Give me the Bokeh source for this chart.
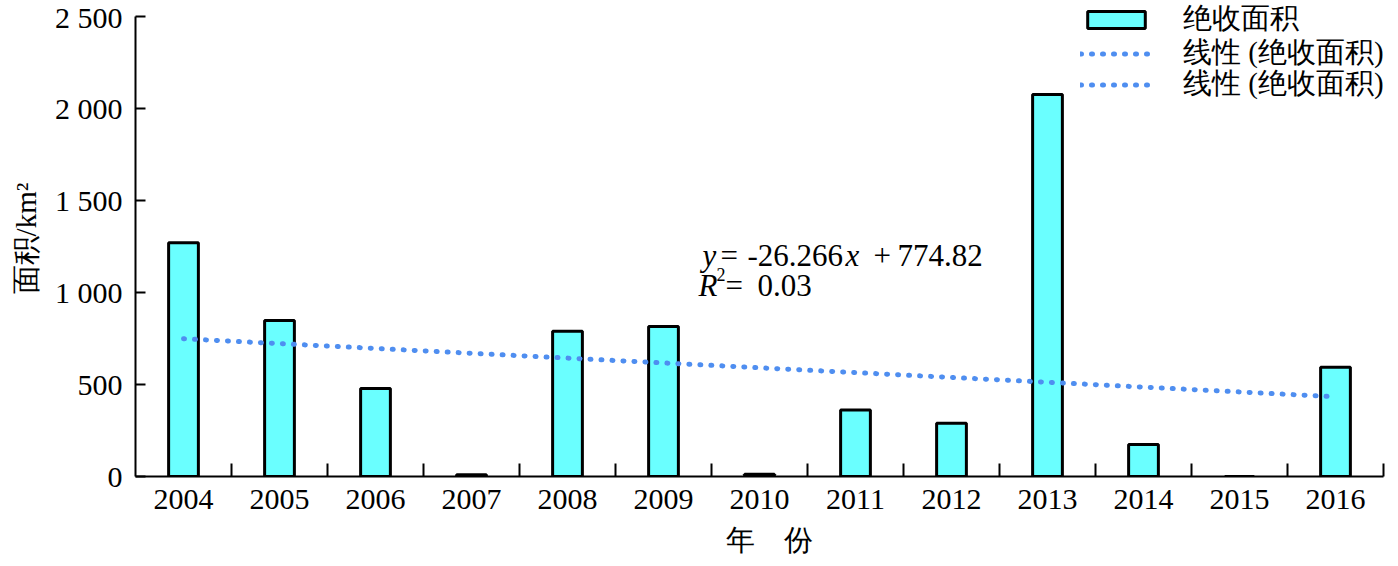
from bokeh.plotting import figure
from bokeh.models import (ColumnDataSource, FixedTicker, Legend, LegendItem, Range1d)
from bokeh.core.properties import value
from bokeh.embed import file_html
from bokeh.resources import INLINE
import numpy as np

# ---- data ----
years = ["2004", "2005", "2006", "2007", "2008", "2009", "2010",
         "2011", "2012", "2013", "2014", "2015", "2016"]
area = [1270, 848, 478, 10, 790, 815, 12, 362, 290, 2076, 174, 0, 594]
y_ticks = [0, 500, 1000, 1500, 2000, 2500]
y_tick_labels = ["0", "500", "1 000", "1 500", "2 000", "2 500"]
y_max = 2500
slope = -26.266
intercept = 774.82
bar_label = "绝收面积"
trend_label = "线性 (绝收面积)"

FONT = "Liberation Serif"
FS = "30px"

n = len(years)
xc = np.arange(n) + 0.5
src = ColumnDataSource(dict(x=xc, area=area))

# frame reaches the top edge (room for the legend); axis drawn only to y_max
p = figure(width=1390, height=558, output_backend="svg", toolbar_location=None,
           x_range=Range1d(0, n), y_range=Range1d(0, y_max * 476 / 460),
           min_border_left=135, min_border_right=7, min_border_top=0,
           min_border_bottom=82)
p.outline_line_alpha = 0
p.grid.visible = False
p.background_fill_color = "white"
p.border_fill_color = "white"

bars = p.vbar(x="x", top="area", width=0.31, source=src,
              fill_color="#6AFFFF", line_color="black", line_width=3)

# trend line from the chart's regression equation (x = 1..n)
t = np.array([1, n])
trend = p.line(x=[xc[0], xc[-1]], y=slope * t + intercept,
               line_color="#4F8EF0", line_width=5, line_dash="1 10",
               line_cap="round")

# x axis
xa = p.xaxis[0]
xa.ticker = FixedTicker(ticks=list(xc), minor_ticks=list(range(1, n + 1)))
xa.major_label_overrides = {float(x): y for x, y in zip(xc, years)}
xa.major_tick_in = 0
xa.major_tick_out = 0
xa.minor_tick_in = 13
xa.minor_tick_out = 0
xa.minor_tick_line_color = "black"
xa.minor_tick_line_width = 2
xa.axis_line_width = 2
xa.axis_line_color = "black"
xa.major_label_standoff = 13
xa.major_label_text_font = FONT
xa.major_label_text_font_size = FS
xa.major_label_text_color = "black"
xa.axis_label = "\u2002\u2009年　份"
xa.axis_label_text_font = FONT
xa.axis_label_text_font_size = "29px"
xa.axis_label_text_font_style = "normal"
xa.axis_label_text_color = "black"
xa.axis_label_standoff = 12

# y axis
ya = p.yaxis[0]
ya.bounds = (0, y_max)
ya.ticker = FixedTicker(ticks=y_ticks, minor_ticks=[])
ya.major_label_overrides = dict(zip(y_ticks, y_tick_labels))
ya.major_tick_in = 10
ya.major_tick_out = 0
ya.major_tick_line_width = 2
ya.minor_tick_line_color = None
ya.axis_line_width = 2
ya.axis_line_color = "black"
ya.major_label_standoff = 13
ya.major_label_text_font = FONT
ya.major_label_text_font_size = FS
ya.major_label_text_color = "black"
ya.axis_label = "面积/km²"
ya.axis_label_text_font = FONT
ya.axis_label_text_font_size = "29px"
ya.axis_label_text_font_style = "normal"
ya.axis_label_text_color = "black"
ya.axis_label_standoff = 10

# equation text (pieces, to get italic variables)
eq_txt = ["y", "=", "-26.266", "x", "+", "774.82", "R", "2", "=", "0.03"]
eq_y = [1201] * 6 + [1038] * 4
eq_off = [39, 57, 84, 182, 210, 234, 35, 53, 62, 94]
eq_yoff = [0, 0, 0, 0, 0, 0, 0, -11, 0, 0]
eq_style = ["italic", "normal", "normal", "italic", "normal", "normal",
            "italic", "normal", "normal", "normal"]
eq_size = ["31px"] * 7 + ["18px", "31px", "31px"]
esrc = ColumnDataSource(dict(x=[xc[5]] * len(eq_txt), y=eq_y, t=eq_txt,
                             xo=eq_off, yo=eq_yoff, st=eq_style, fs=eq_size))
p.text(x="x", y="y", text="t", x_offset="xo", y_offset="yo", source=esrc,
       text_font=value("Liberation Serif"), text_font_size="fs",
       text_font_style="st", text_color="black", text_baseline="alphabetic",
       text_align="left")

# legend: one Legend per row so that the rows sit close together
leg_items = [(bar_label, bars, 437), (trend_label, trend, 403),
             (trend_label, trend, 372)]
for lab, rend, ly in leg_items:
    lg = Legend(items=[LegendItem(label=lab, renderers=[rend])],
                location=(945, ly), orientation="vertical",
                glyph_width=72, glyph_height=21, label_standoff=31,
                label_text_font=FONT, label_text_font_size="29px",
                label_text_color="black", label_height=30, spacing=0,
                padding=0, margin=0, border_line_alpha=0,
                background_fill_alpha=0)
    p.add_layout(lg, "center")

open("out.html", "w").write(file_html(p, INLINE))
